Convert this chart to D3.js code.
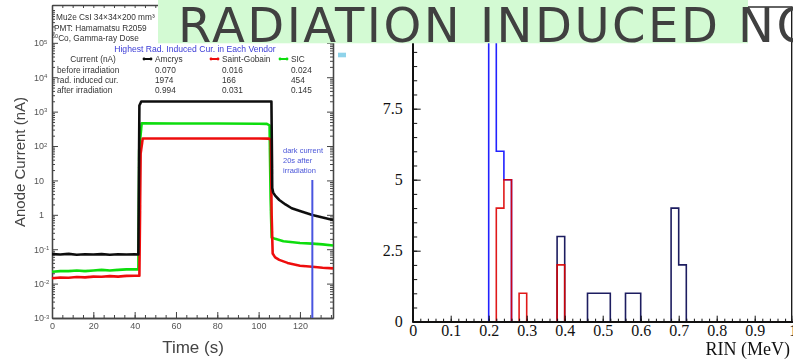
<!DOCTYPE html>
<html>
<head>
<meta charset="utf-8">
<script src="https://cdn.jsdelivr.net/npm/d3@7"></script>
<style>
  body { margin: 0; background: #fff; }
  svg { display: block; }
</style>
</head>
<body>
<div id="container"></div>
<script>
/* CONSTANTS AND GLOBALS */
const width = 793,
  height = 360

/* LEFT PANEL DATA: anode current (nA) vs time (s) */
const amcrysTime = [0, 4, 8, 12, 16, 20, 24, 28, 32, 36, 40, 41.8, 42.3, 43.2, 60, 80, 100, 106.2, 106.6, 107, 108, 110, 113, 116, 120, 126, 131, 136]
const amcrysCurrent = [0.072, 0.07, 0.073, 0.069, 0.071, 0.07, 0.072, 0.069, 0.071, 0.07, 0.071, 0.07, 1500, 1974, 1974, 1974, 1974, 1974, 6, 4.5, 3.6, 2.7, 2.0, 1.55, 1.3, 0.994, 0.84, 0.71]

const sicTime = [0, 4, 8, 12, 16, 20, 24, 28, 32, 36, 40, 41.8, 42.2, 43.4, 60, 80, 100, 104, 105.3, 105.8, 106.3, 108, 112, 120, 126, 131, 136]
const sicCurrent = [0.022, 0.023, 0.023, 0.024, 0.023, 0.024, 0.025, 0.024, 0.025, 0.026, 0.026, 0.026, 76, 454, 452, 450, 445, 440, 400, 3, 0.22, 0.2, 0.17, 0.152, 0.145, 0.138, 0.128]

const sgTime = [0, 4, 8, 12, 16, 20, 24, 28, 32, 36, 40, 42.3, 42.9, 43.9, 60, 80, 100, 105, 105.9, 106.3, 106.8, 108, 110, 114, 120, 126, 131, 136]
const sgCurrent = [0.0143, 0.015, 0.0148, 0.0155, 0.0152, 0.016, 0.0158, 0.0165, 0.016, 0.0168, 0.0169, 0.0169, 60, 166, 166, 166, 166, 164, 150, 1, 0.075, 0.058, 0.049, 0.04, 0.033, 0.031, 0.029, 0.0278]

const timeTicks = [0, 20, 40, 60, 80, 100, 120]
const currentDecades = [1e-3, 1e-2, 1e-1, 1, 10, 1e2, 1e3, 1e4, 1e5]

const vendors = ["Amcrys", "Saint-Gobain", "SIC"]
const vendorColors = ["#111111", "#ee1111", "#11dd11"]
const rowNames = ["before irradiation", "rad. induced cur.", "after irradiation"]
const beforeIrr = ["0.070", "0.016", "0.024"]
const radInduced = ["1974", "166", "454"]
const afterIrr = ["0.994", "0.031", "0.145"]
const darkCurrentTime = 126

/* RIGHT PANEL DATA: histogram of RIN (MeV), bin width 0.02 */
const binWidth = 0.02
const nBins = 50
const blueLow = [0.20, 0.22, 0.24]
const blueCount = [14, 6, 5]
const navyLow = [0.38, 0.46, 0.48, 0.50, 0.56, 0.58, 0.68, 0.70]
const navyCount = [3, 1, 1, 1, 1, 1, 4, 2]
const redLow = [0.22, 0.24, 0.28, 0.38]
const redCount = [4, 5, 1, 2]
const rinTicks = [0, 0.1, 0.2, 0.3, 0.4, 0.5, 0.6, 0.7, 0.8, 0.9, 1]
const countTicks = [0, 2.5, 5, 7.5] // the "10" label sits under the title box

const titleText = "RADIATION INDUCED NOISE"

/* CREATE SVG ELEMENT */
const svg = d3.select("#container")
  .append("svg")
  .attr("width", width)
  .attr("height", height)

svg.append("rect").attr("width", width).attr("height", height).attr("fill", "#fff")

const defs = svg.append("defs")
defs.append("filter").attr("id", "soft")
  .append("feGaussianBlur").attr("stdDeviation", 0.45)
defs.append("clipPath").attr("id", "histClip")
  .append("rect").attr("x", 412).attr("y", 7).attr("width", 381).attr("height", 316)

/* ================= LEFT PANEL ================= */
const gL = svg.append("g").attr("filter", "url(#soft)")

const xL = d3.scaleLinear().domain([0, 136]).range([52, 333])
const yL = d3.scaleLog().domain([1e-3, Math.pow(10, 6.1)]).range([318, 5])

const yMinor = []
for (let e = -3; e <= 6; e++) for (let m = 2; m <= 9; m++) {
  const v = m * Math.pow(10, e)
  if (v < yL.domain()[1]) yMinor.push(v)
}
const xMinor = d3.range(0, 136, 5)

const styleAxis = (g, color) => {
  g.selectAll("path.domain").attr("stroke", color).attr("stroke-width", 1.3)
  g.selectAll(".tick line").attr("stroke", color).attr("stroke-width", 1)
  g.selectAll(".tick text")
    .attr("font-family", "Liberation Sans, Arial, sans-serif")
    .attr("font-size", 9)
    .attr("fill", "#555")
}

// minor ticks, all four sides
gL.append("g").attr("transform", `translate(${xL(0)},0)`)
  .call(d3.axisLeft(yL).tickValues(yMinor).tickSizeInner(-3).tickSizeOuter(0).tickFormat(""))
  .call(g => styleAxis(g, "#444"))
gL.append("g").attr("transform", `translate(${xL(136)},0)`)
  .call(d3.axisRight(yL).tickValues(yMinor).tickSizeInner(-3).tickSizeOuter(0).tickFormat(""))
  .call(g => styleAxis(g, "#444"))
gL.append("g").attr("transform", `translate(0,${yL(1e-3)})`)
  .call(d3.axisBottom(xL).tickValues(xMinor).tickSizeInner(-3).tickSizeOuter(0).tickFormat(""))
  .call(g => styleAxis(g, "#444"))
gL.append("g").attr("transform", `translate(0,${yL.range()[1]})`)
  .call(d3.axisTop(xL).tickValues(xMinor).tickSizeInner(-3).tickSizeOuter(0).tickFormat(""))
  .call(g => styleAxis(g, "#444"))

// major ticks; decade labels written as 10 with a raised exponent
const yAxisL = gL.append("g").attr("transform", `translate(${xL(0)},0)`)
  .call(d3.axisLeft(yL).tickValues(currentDecades).tickSizeInner(-6).tickSizeOuter(0).tickPadding(8)
    .tickFormat(d => d === 1 ? "1" : "10"))
  .call(g => styleAxis(g, "#444"))
yAxisL.selectAll(".tick text").each(function (d) {
  const e = Math.round(Math.log10(d))
  const t = d3.select(this).attr("text-anchor", "start").attr("x", e === 0 ? -13 : -18)
  if (e === 0 || e === 1) return
  t.append("tspan").attr("dy", "-0.45em").attr("font-size", 6).text(e)
})
gL.append("g").attr("transform", `translate(${xL(136)},0)`)
  .call(d3.axisRight(yL).tickValues(currentDecades).tickSizeInner(-6).tickSizeOuter(0).tickFormat(""))
  .call(g => styleAxis(g, "#444"))
gL.append("g").attr("transform", `translate(0,${yL(1e-3)})`)
  .call(d3.axisBottom(xL).tickValues(timeTicks).tickSizeInner(-6).tickSizeOuter(0).tickPadding(5))
  .call(g => styleAxis(g, "#444"))

// axis titles
gL.append("text")
  .attr("transform", `translate(25, 162) rotate(-90)`)
  .attr("text-anchor", "middle")
  .attr("font-family", "Liberation Sans, Arial, sans-serif")
  .attr("font-size", 15).attr("fill", "#444")
  .text("Anode Current (nA)")
gL.append("text")
  .attr("x", 193).attr("y", 353)
  .attr("text-anchor", "middle")
  .attr("font-family", "Liberation Sans, Arial, sans-serif")
  .attr("font-size", 17).attr("fill", "#444")
  .text("Time (s)")

// curves
const lineL = d3.line().x(d => xL(d[0])).y(d => yL(d[1]))
const curves = [
  { name: "SIC", color: vendorColors[2], t: sicTime, v: sicCurrent },
  { name: "Saint-Gobain", color: vendorColors[1], t: sgTime, v: sgCurrent },
  { name: "Amcrys", color: vendorColors[0], t: amcrysTime, v: amcrysCurrent }
]
gL.selectAll(".curve")
  .data(curves)
  .join("path")
  .attr("class", "curve")
  .attr("fill", "none")
  .attr("stroke", d => d.color)
  .attr("stroke-width", 2.6)
  .attr("stroke-linejoin", "round")
  .attr("d", d => lineL(d.t.map((t, i) => [t, d.v[i]])))

// dark current marker
gL.append("line")
  .attr("x1", xL(darkCurrentTime)).attr("x2", xL(darkCurrentTime))
  .attr("y1", 180).attr("y2", yL(1e-3))
  .attr("stroke", "#4a55e0").attr("stroke-width", 2)
gL.append("text")
  .attr("font-family", "Liberation Sans, Arial, sans-serif")
  .attr("font-size", 7.5).attr("fill", "#4a55d8")
  .selectAll("tspan")
  .data(["dark current", "20s after", "irradiation"])
  .join("tspan")
  .attr("x", 283).attr("y", (d, i) => 153 + i * 10)
  .text(d => d)

// info text block
const info = gL.append("g")
  .attr("font-family", "Liberation Sans, Arial, sans-serif")
  .attr("font-size", 8.3).attr("fill", "#333")
info.append("text").attr("x", 56).attr("y", 20).text("Mu2e CsI 34×34×200 mm³")
info.append("text").attr("x", 54).attr("y", 30.5).text("PMT: Hamamatsu R2059")
info.append("text").attr("x", 52).attr("y", 41)
  .call(t => t.append("tspan").attr("font-size", 5.5).attr("dy", -3).text("60"))
  .call(t => t.append("tspan").attr("dy", 3).text("Co, Gamma-ray Dose"))
info.append("text").attr("x", 195).attr("y", 52).attr("text-anchor", "middle")
  .attr("fill", "#3b3bd6").attr("font-size", 8.6)
  .text("Highest Rad. Induced Cur. in Each Vendor")
info.append("text").attr("x", 93).attr("y", 62).attr("text-anchor", "middle").text("Current (nA)")

const colX = [155, 222, 291]
vendors.forEach((v, i) => {
  const mx = colX[i] - 12
  info.append("line").attr("x1", mx).attr("x2", mx + 9).attr("y1", 59).attr("y2", 59)
    .attr("stroke", vendorColors[i]).attr("stroke-width", 2)
  info.append("circle").attr("cx", mx + 1).attr("cy", 59).attr("r", 1.4).attr("fill", vendorColors[i])
  info.append("circle").attr("cx", mx + 8).attr("cy", 59).attr("r", 1.4).attr("fill", vendorColors[i])
  info.append("text").attr("x", colX[i]).attr("y", 62).text(v)
})
const rows = [beforeIrr, radInduced, afterIrr]
rowNames.forEach((r, j) => {
  info.append("text").attr("x", 57).attr("y", 72.5 + j * 10.4).text(r)
  rows[j].forEach((val, i) => {
    info.append("text").attr("x", colX[i]).attr("y", 72.5 + j * 10.4).text(val)
  })
})

/* ================= RIGHT PANEL ================= */
const gR = svg.append("g")

const xH = d3.scaleLinear().domain([0, 1]).range([412.7, 792.7])
const yH = d3.scaleLinear().domain([0, 11.08]).range([321.7, 7])

// full 50-bin tables from the sparse lists
const toBins = (low, count) => {
  const bins = new Array(nBins).fill(0)
  low.forEach((l, i) => { bins[Math.round(l / binWidth)] = count[i] })
  return bins
}
const stepLine = d3.line().x(d => xH(d[0])).y(d => yH(d[1])).curve(d3.curveStepAfter)
const stepPoints = bins => {
  const pts = [[0, 0]]
  bins.forEach((c, i) => pts.push([i * binWidth, c]))
  pts.push([1, bins[nBins - 1]])
  return pts
}

const hists = [
  { name: "navy", color: "#1d1d60", bins: toBins(navyLow, navyCount), op: 1 },
  { name: "blue", color: "#2222ff", bins: toBins(blueLow, blueCount), op: 1 },
  { name: "red", color: "#dd0000", bins: toBins(redLow, redCount), op: 0.9 }
]

gR.append("g").attr("clip-path", "url(#histClip)")
  .selectAll(".hist")
  .data(hists)
  .join("path")
  .attr("class", "hist")
  .attr("fill", "none")
  .attr("stroke", d => d.color)
  .attr("stroke-opacity", d => d.op)
  .attr("stroke-width", 1.6)
  .attr("d", d => stepLine(stepPoints(d.bins)))

// frame
gR.append("rect")
  .attr("x", xH(0)).attr("y", yH.range()[1])
  .attr("width", xH(1) - xH(0) - 1).attr("height", yH(0) - yH.range()[1])
  .attr("fill", "none").attr("stroke", "#111").attr("stroke-width", 1.3)

const styleHist = g => {
  g.selectAll("path.domain").attr("stroke", "#111").attr("stroke-width", 1.5)
  g.selectAll(".tick line").attr("stroke", "#111").attr("stroke-width", 1)
  g.selectAll(".tick text")
    .attr("font-family", "Liberation Serif, Times New Roman, serif")
    .attr("font-size", 16).attr("fill", "#111")
}

gR.append("g").attr("transform", `translate(${xH(0)},0)`)
  .call(d3.axisLeft(yH).tickValues(d3.range(0, 11.01, 0.5)).tickSizeInner(-4.5).tickSizeOuter(0).tickFormat(""))
  .call(styleHist)
gR.append("g").attr("transform", `translate(${xH(0)},0)`)
  .call(d3.axisLeft(yH).tickValues(countTicks.concat([10])).tickSizeInner(-8).tickSizeOuter(0).tickPadding(10)
    .tickFormat(d => countTicks.includes(d) ? d3.format("~g")(d) : ""))
  .call(styleHist)
gR.append("g").attr("transform", `translate(0,${yH(0)})`)
  .call(d3.axisBottom(xH).tickValues(d3.range(0, 1.001, 0.02)).tickSizeInner(-3).tickSizeOuter(0).tickFormat(""))
  .call(styleHist)
gR.append("g").attr("transform", `translate(0,${yH(0)})`)
  .call(d3.axisBottom(xH).tickValues(rinTicks).tickSizeInner(-6).tickSizeOuter(0).tickPadding(3)
    .tickFormat(d => d3.format("~g")(d)))
  .call(styleHist)

gR.append("text")
  .attr("x", 790).attr("y", 355)
  .attr("text-anchor", "end")
  .attr("font-family", "Liberation Serif, Times New Roman, serif")
  .attr("font-size", 18).attr("fill", "#111")
  .text("RIN (MeV)")

// small bullet left over from the slide
svg.append("rect").attr("x", 338).attr("y", 52.7).attr("width", 8).attr("height", 4.6).attr("fill", "#8fd3ea")

/* ================= TITLE ================= */
svg.append("rect")
  .attr("x", 158).attr("y", 0).attr("width", 590).attr("height", 43.3)
  .attr("fill", "#d3fad3")
svg.append("text")
  .attr("x", 178).attr("y", 42)
  .attr("font-family", "DejaVu Sans, sans-serif")
  .attr("font-size", 48).attr("letter-spacing", 2.5).attr("fill", "#404040")
  .text(titleText)
</script>
</body>
</html>
